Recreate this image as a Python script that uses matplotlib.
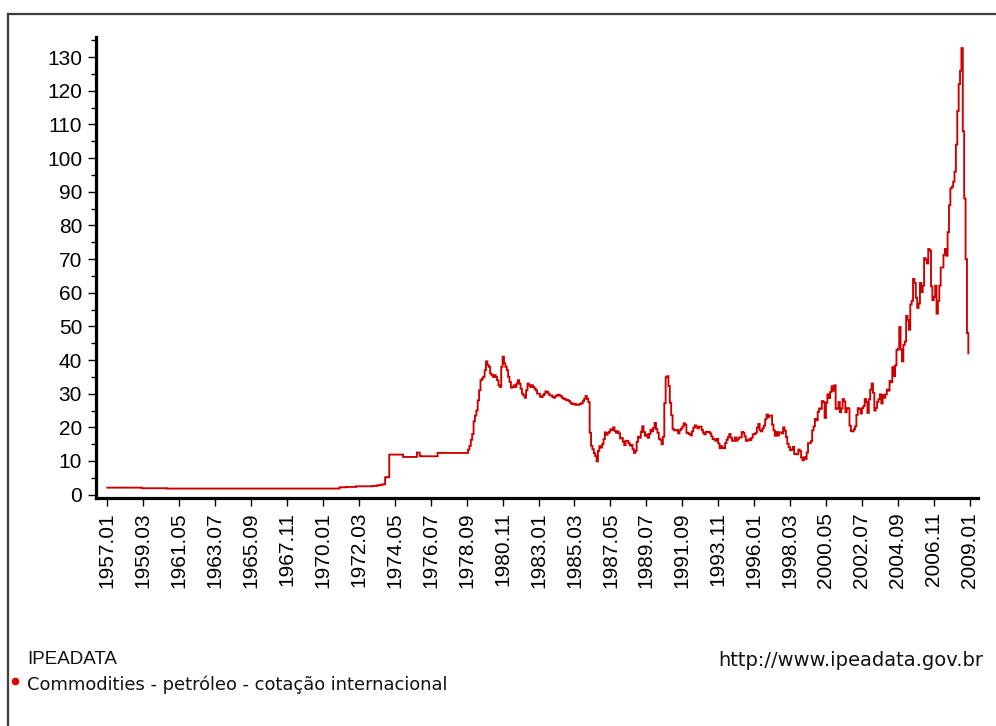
import matplotlib
matplotlib.use("Agg")
import matplotlib.pyplot as plt
from matplotlib.lines import Line2D
import numpy as np

plt.rcParams['font.family'] = ['Liberation Sans', 'DejaVu Sans']

# Monthly prices (US$/barrel), 1957.01 ... 2008.12
prices_1957_1964 = [
    2.08, 2.08, 2.08, 2.08, 2.08, 2.08, 2.08, 2.08, 2.08, 2.08, 2.08, 2.08,
    2.08, 2.08, 2.08, 2.08, 2.08, 2.08, 2.08, 2.08, 2.08, 2.08, 2.08, 2.08,
    2.08, 1.90, 1.90, 1.90, 1.90, 1.90, 1.90, 1.90, 1.90, 1.90, 1.90, 1.90,
    1.90, 1.90, 1.90, 1.90, 1.90, 1.90, 1.90, 1.80, 1.80, 1.80, 1.80, 1.80,
    1.80, 1.80, 1.80, 1.80, 1.80, 1.80, 1.80, 1.80, 1.80, 1.80, 1.80, 1.80,
    1.80, 1.80, 1.80, 1.80, 1.80, 1.80, 1.80, 1.80, 1.80, 1.80, 1.80, 1.80,
    1.80, 1.80, 1.80, 1.80, 1.80, 1.80, 1.80, 1.80, 1.80, 1.80, 1.80, 1.80,
    1.80, 1.80, 1.80, 1.80, 1.80, 1.80, 1.80, 1.80, 1.80, 1.80, 1.80, 1.80,
]
prices_1965_1972 = [
    1.80, 1.80, 1.80, 1.80, 1.80, 1.80, 1.80, 1.80, 1.80, 1.80, 1.80, 1.80,
    1.80, 1.80, 1.80, 1.80, 1.80, 1.80, 1.80, 1.80, 1.80, 1.80, 1.80, 1.80,
    1.80, 1.80, 1.80, 1.80, 1.80, 1.80, 1.80, 1.80, 1.80, 1.80, 1.80, 1.80,
    1.80, 1.80, 1.80, 1.80, 1.80, 1.80, 1.80, 1.80, 1.80, 1.80, 1.80, 1.80,
    1.80, 1.80, 1.80, 1.80, 1.80, 1.80, 1.80, 1.80, 1.80, 1.80, 1.80, 1.80,
    1.80, 1.80, 1.80, 1.80, 1.80, 1.80, 1.80, 1.80, 1.80, 1.80, 1.80, 1.80,
    2.18, 2.18, 2.18, 2.18, 2.18, 2.29, 2.29, 2.29, 2.29, 2.29, 2.29, 2.29,
    2.48, 2.48, 2.48, 2.48, 2.48, 2.48, 2.48, 2.48, 2.48, 2.48, 2.48, 2.48,
]
prices_1973_1980 = [
    2.59, 2.59, 2.59, 2.74, 2.74, 2.90, 2.90, 3.07, 3.07, 5.12, 5.18, 5.18,
    11.9, 11.9, 11.9, 11.9, 11.9, 11.9, 11.9, 11.9, 11.9, 11.9, 11.2, 11.2,
    11.2, 11.2, 11.2, 11.2, 11.2, 11.2, 11.2, 11.2, 12.5, 12.5, 11.5, 11.4,
    11.4, 11.4, 11.4, 11.4, 11.4, 11.4, 11.4, 11.4, 11.4, 11.4, 11.4, 12.4,
    12.4, 12.4, 12.4, 12.4, 12.4, 12.4, 12.4, 12.4, 12.4, 12.4, 12.4, 12.4,
    12.4, 12.4, 12.4, 12.4, 12.4, 12.4, 12.4, 12.4, 12.4, 13.4, 14.5, 16.3,
    18.0, 21.8, 23.5, 25.0, 28.0, 31.0, 34.0, 34.5, 35.0, 37.0, 39.6, 38.5,
    38.0, 36.0, 35.5, 35.0, 35.5, 35.0, 34.0, 32.5, 32.0, 38.0, 41.0, 39.0,
]
prices_1981_1988 = [
    38.0, 37.0, 35.0, 33.5, 31.8, 32.0, 32.5, 32.0, 33.0, 34.0, 33.0, 31.5,
    30.0, 29.5, 28.8, 31.0, 33.0, 32.5, 32.0, 32.5, 32.0, 31.5, 31.0, 30.0,
    30.0, 29.2, 29.0, 29.5, 30.0, 30.7, 30.5, 30.0, 29.5, 29.5, 29.0, 28.8,
    29.2, 29.5, 29.7, 29.5, 29.2, 28.8, 28.5, 28.3, 28.2, 28.0, 27.8, 27.3,
    27.0, 26.8, 27.0, 26.7, 26.7, 26.8, 27.0, 27.2, 27.8, 28.5, 29.3, 28.5,
    27.5, 18.4, 14.5, 13.5, 12.3, 11.5, 9.9, 13.0, 14.4, 14.0, 15.0, 16.5,
    18.5, 17.8, 18.3, 18.7, 19.4, 19.2, 20.0, 18.9, 18.4, 18.8, 18.2, 16.7,
    16.8, 15.7, 14.7, 16.0, 16.0, 15.3, 14.6, 14.8, 13.5, 12.4, 13.0, 15.7,
]
prices_1989_1996 = [
    17.2, 16.9, 18.7, 20.3, 18.6, 17.5, 17.9, 16.9, 18.0, 19.3, 18.8, 19.9,
    21.3, 19.5, 18.4, 16.6, 16.3, 15.0, 17.2, 27.2, 34.9, 35.2, 32.3, 27.3,
    23.6, 19.5, 19.1, 19.1, 19.2, 18.2, 19.1, 19.6, 20.2, 21.2, 20.8, 18.4,
    18.2, 18.0, 17.6, 18.8, 19.9, 20.6, 20.2, 19.7, 20.2, 20.2, 19.2, 18.4,
    17.9, 18.6, 18.7, 18.6, 18.2, 17.3, 16.5, 16.4, 16.0, 16.6, 15.2, 13.8,
    14.4, 13.9, 13.8, 15.3, 16.3, 17.1, 18.0, 16.9, 16.0, 16.1, 17.0, 16.0,
    16.6, 17.0, 17.0, 18.6, 18.4, 17.3, 16.0, 16.1, 16.5, 16.2, 16.9, 17.9,
    18.0, 18.4, 19.9, 21.0, 19.1, 18.8, 19.7, 20.5, 22.4, 23.8, 23.0, 23.5,
]
prices_1997_2004 = [
    23.5, 20.8, 19.1, 17.5, 18.6, 17.6, 18.5, 18.5, 18.2, 20.0, 19.0, 17.1,
    15.1, 14.1, 13.2, 13.4, 14.2, 12.1, 12.0, 12.0, 13.4, 12.9, 11.0, 10.2,
    11.1, 10.6, 12.5, 15.3, 15.3, 15.9, 19.1, 20.3, 22.5, 22.1, 24.6, 25.6,
    25.5, 27.8, 27.5, 22.8, 27.3, 29.8, 28.7, 30.5, 32.2, 30.9, 32.5, 25.5,
    25.6, 27.5, 24.5, 25.6, 28.4, 27.7, 24.5, 25.7, 25.6, 20.5, 18.9, 18.8,
    19.4, 20.3, 23.7, 25.7, 25.4, 24.1, 25.7, 26.3, 28.4, 27.5, 24.3, 28.3,
    31.2, 33.0, 30.3, 25.0, 25.8, 27.6, 28.4, 29.8, 27.1, 29.6, 28.8, 29.8,
    31.2, 30.9, 33.8, 33.4, 37.9, 35.2, 38.4, 43.0, 43.4, 49.8, 43.1, 39.6,
]
prices_2005_2008 = [
    44.5, 45.5, 53.1, 51.9, 49.0, 56.5, 57.6, 64.1, 62.9, 58.5, 55.5, 56.8,
    62.9, 60.2, 62.1, 70.3, 69.8, 68.7, 73.0, 72.5, 61.9, 57.8, 58.8, 62.1,
    53.8, 57.6, 62.1, 67.5, 67.5, 71.3, 73.0, 71.0, 78.0, 86.0, 91.0, 91.5,
    93.0, 96.0, 104.0, 114.0, 122.0, 126.0, 132.7, 108.0, 88.0, 70.0, 48.0, 42.0,
]

x_tick_labels = [
    "1957.01", "1959.03", "1961.05", "1963.07", "1965.09", "1967.11",
    "1970.01", "1972.03", "1974.05", "1976.07", "1978.09", "1980.11",
    "1983.01", "1985.03", "1987.05", "1989.07", "1991.09", "1993.11",
    "1996.01", "1998.03", "2000.05", "2002.07", "2004.09", "2006.11",
    "2009.01",
]
y_ticks = [0, 10, 20, 30, 40, 50, 60, 70, 80, 90, 100, 110, 120, 130]

series_name = "Commodities - petróleo - cotação internacional"
source_name = "IPEADATA"
source_url = "http://www.ipeadata.gov.br"

values = (prices_1957_1964 + prices_1965_1972 + prices_1973_1980 +
          prices_1981_1988 + prices_1989_1996 + prices_1997_2004 +
          prices_2005_2008)
months = np.arange(len(values))


def label_to_index(lbl):
    y, m = lbl.split(".")
    return (int(y) - 1957) * 12 + int(m) - 1


W, H = 996, 726
fig = plt.figure(figsize=(W / 100, H / 100), dpi=100)
fig.patch.set_facecolor("white")

L, R, T, B = 96, 978, 37, 498
ax = fig.add_axes([L / W, 1 - B / H, (R - L) / W, (B - T) / H])

ax.plot(months, values, drawstyle="steps-post", color="#cc0000",
        linewidth=1.35, solid_joinstyle="miter")

ax.set_xlim(-8.2, 630)
ax.set_ylim(-1.0, 136)

ax.set_xticks([label_to_index(l) for l in x_tick_labels])
ax.set_xticklabels(x_tick_labels, rotation=90)
ax.set_yticks(y_ticks)
ax.set_yticklabels([str(v) for v in y_ticks])
ax.set_yticks([v + 5 for v in y_ticks], minor=True)

for s in ("top", "right"):
    ax.spines[s].set_visible(False)
for s in ("left", "bottom"):
    ax.spines[s].set_linewidth(2.3)
    ax.spines[s].set_color("black")

ax.tick_params(axis="both", which="major", direction="out", length=6,
               width=1.0, colors="black", labelsize=15, pad=4)
ax.tick_params(axis="y", which="minor", direction="out", length=3.5,
               width=1.0, colors="black")
ax.tick_params(axis="x", which="minor", bottom=False)

# outer frame (top and left edges visible)
frame_color = "#3c3c3c"
fig.add_artist(Line2D([8 / W, 1.0], [1 - 14 / H, 1 - 14 / H],
                      transform=fig.transFigure, color=frame_color,
                      linewidth=1.6))
fig.add_artist(Line2D([8 / W, 8 / W], [0.0, 1 - 14 / H],
                      transform=fig.transFigure, color=frame_color,
                      linewidth=1.6))

fig.text(27 / W, 1 - 651 / H, source_name, fontsize=13.5, va="top",
         ha="left", color="#111111")
fig.text(27 / W, 1 - 675 / H, series_name, fontsize=12.9, va="top",
         ha="left", color="#111111", family=["DejaVu Sans"])
fig.text(983 / W, 1 - 651 / H, source_url, fontsize=14.0, va="top",
         ha="right", color="#111111", family=["DejaVu Sans"])
fig.add_artist(Line2D([15 / W], [1 - 681 / H], transform=fig.transFigure,
                      marker="o", markersize=4.5, color="#e00000",
                      linestyle="none"))

fig.savefig("out.png", dpi=100, facecolor="white")
